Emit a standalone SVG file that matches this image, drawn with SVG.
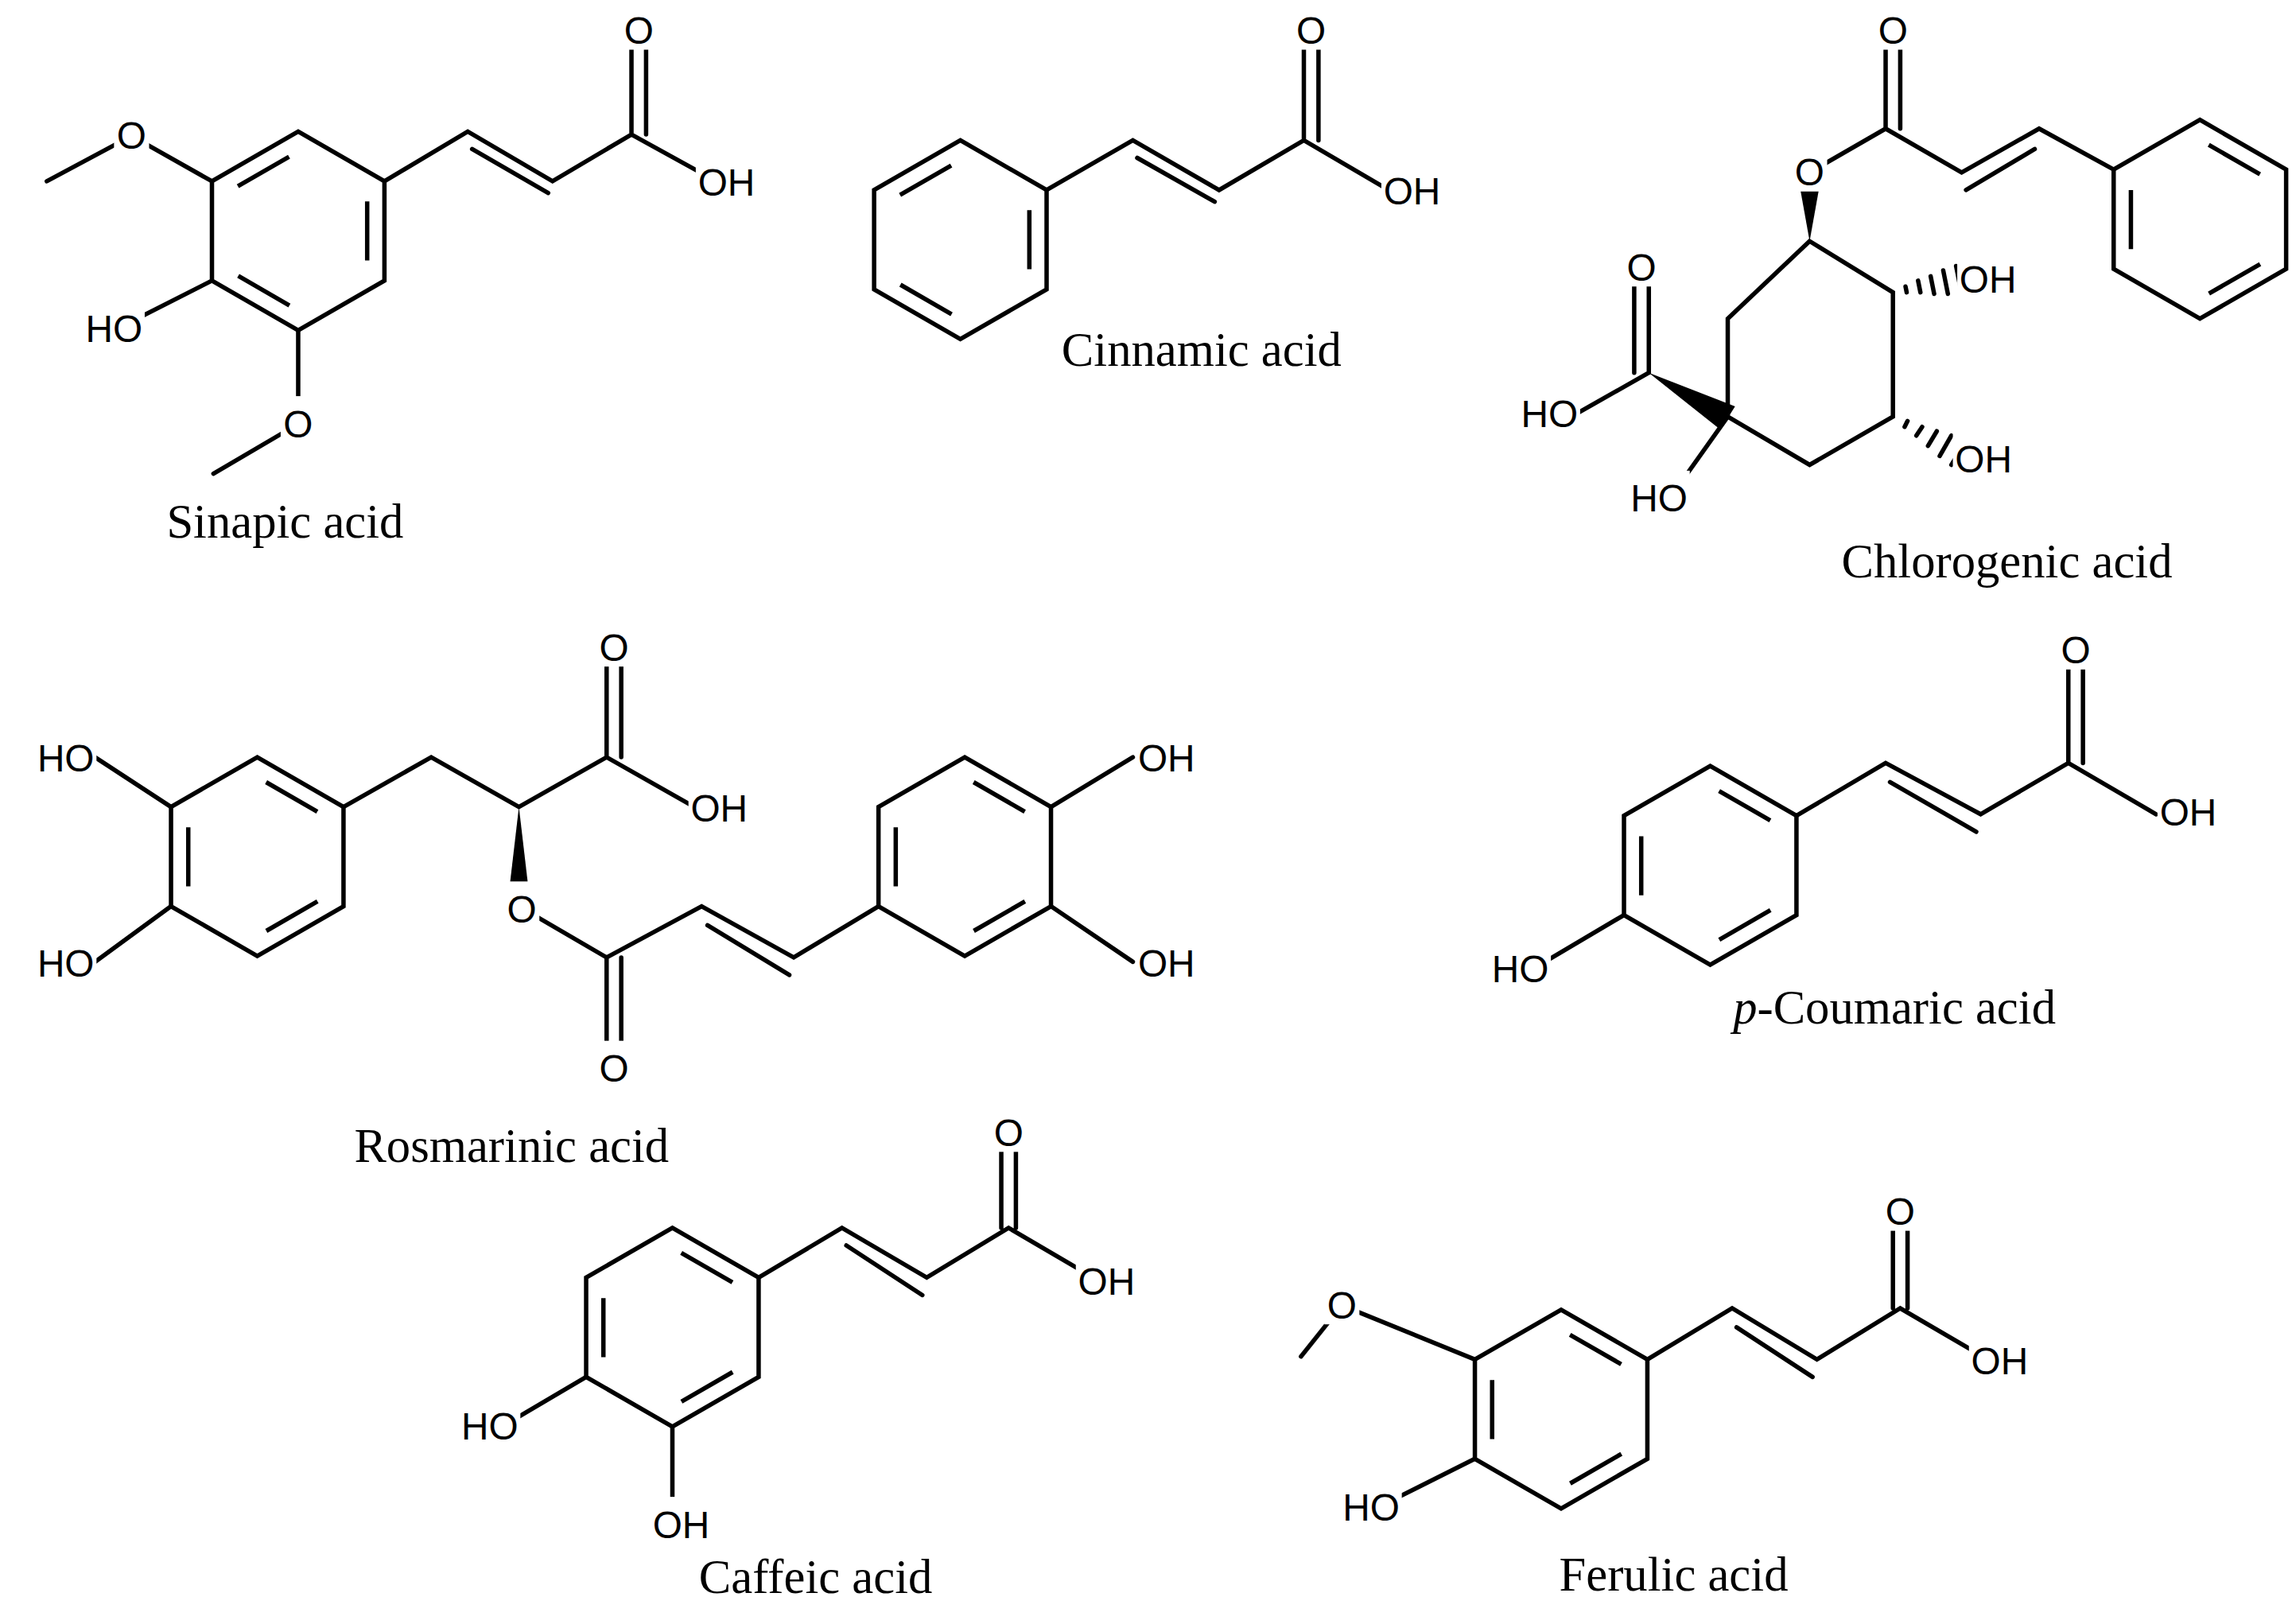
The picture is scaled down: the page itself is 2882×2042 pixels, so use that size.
<svg xmlns="http://www.w3.org/2000/svg" xmlns:xlink="http://www.w3.org/1999/xlink" width="2882" height="2042" viewBox="0 0 2882 2042">
<style>
.b{stroke:#000;stroke-width:3;fill:none;stroke-linecap:round}
.in{stroke:#000;stroke-width:3;fill:none;stroke-linecap:butt;stroke-dasharray:40.4 68.4;stroke-dashoffset:101.8}
.a{font-family:"Liberation Sans",Arial,sans-serif;font-size:26px;text-anchor:middle;fill:#000}
.m{fill:#fff}
.n{font-family:"Liberation Serif","Times New Roman",serif;font-size:33px;text-anchor:middle;fill:#000}
</style>
<defs>
<g id="ringA"><path class="b" d="M0,-68L59,-34L59,34L0,68L-59,34L-59,-34Z"/><path class="in" d="M0,-54.4L47.2,-27.2L47.2,27.2L0,54.4L-47.2,27.2L-47.2,-27.2L0,-54.4"/></g>
<g id="ringB"><path class="b" d="M0,-68L59,-34L59,34L0,68L-59,34L-59,-34Z"/><path class="in" d="M47.2,-27.2L47.2,27.2L0,54.4L-47.2,27.2L-47.2,-27.2L0,-54.4L47.2,-27.2"/></g>
<rect id="o1" class="m" x="-12" y="-28" width="24" height="32"/>
<rect id="o2" class="m" x="-21" y="-28" width="42" height="32"/>
</defs>
<rect width="2882" height="2042" fill="#fff"/>
<g transform="scale(1.838)">
<g id="sinapic">
<use xlink:href="#ringB" x="204" y="158"/>
<path class="b" d="M145,124L90,93L32,124M145,192L80,225M204,226L204,290L146,324M263,124L320,90L378,124L432,92L490,124M432,92L432,28M442,92L442,28M323,102L375,132"/>
<use xlink:href="#o1" x="90" y="102"/><use xlink:href="#o2" x="78" y="234"/><use xlink:href="#o1" x="204" y="299"/><use xlink:href="#o1" x="437" y="30"/><use xlink:href="#o2" x="497" y="134"/>
<text class="a" x="90" y="102">O</text><text class="a" x="78" y="234">HO</text><text class="a" x="204" y="299">O</text>
<text class="a" x="437" y="30">O</text><text class="a" x="497" y="134">OH</text>
<text class="n" x="195" y="368">Sinapic acid</text>
</g>
<g id="cinnamic">
<use xlink:href="#ringB" x="657" y="164"/>
<path class="b" d="M716,130L775,96L834,130L892,96L950,130M778,108L831,138M892,96L892,28M902,96L902,28"/>
<use xlink:href="#o1" x="897" y="30"/><use xlink:href="#o2" x="966" y="140"/>
<text class="a" x="897" y="30">O</text><text class="a" x="966" y="140">OH</text>
<text class="n" x="822" y="250">Cinnamic acid</text>
</g>
<g id="chlorogenic">
<path class="b" d="M1238,165L1295,200L1295,285L1238,318L1182,285L1182,218Z M1182,285L1150,330 M1238,118L1290,88L1342,118L1395,88L1446,116M1290,88L1290,28M1300,88L1300,28M1345,130L1392,102M1128,255L1128,195M1118,255L1118,195M1128,255L1075,285"/>
<polygon points="1238,165 1231,126 1245,126"/>
<polygon points="1128,255 1177,294 1187,278"/>
<path class="b" d="M1303.6,196L1304.4,200M1312.2,192L1313.8,200M1320.8,189L1323.2,201M1329.4,185L1332.6,201M1338.2,182L1341.8,200M1303,292L1305,288M1311,298L1315,292M1319,305L1325,295M1327,312L1335,298M1335,318L1345,302"/>
<use xlink:href="#ringA" x="1505" y="150"/>
<use xlink:href="#o1" x="1238" y="127"/><use xlink:href="#o1" x="1295" y="30"/><use xlink:href="#o1" x="1123" y="192"/>
<use xlink:href="#o2" x="1060" y="292"/><use xlink:href="#o2" x="1135" y="350"/><use xlink:href="#o2" x="1360" y="200"/><use xlink:href="#o2" x="1357" y="323"/>
<text class="a" x="1238" y="127">O</text><text class="a" x="1295" y="30">O</text>
<text class="a" x="1123" y="192">O</text><text class="a" x="1060" y="292">HO</text>
<text class="a" x="1135" y="350">HO</text><text class="a" x="1360" y="200">OH</text><text class="a" x="1357" y="323">OH</text>
<text class="n" x="1373" y="395">Chlorogenic acid</text>
</g>
<g id="rosmarinic">
<use xlink:href="#ringA" x="176" y="586"/>
<use xlink:href="#ringA" x="660" y="586"/>
<path class="b" d="M117,552L65,518M117,620L65,658M235,552L295,518L355,552L415,518L475,552M415,518L415,450M425,518L425,450M355,620L415,655L480,620L543,655L601,620M415,655L415,722M425,655L425,722M484,633L540,667M719,552L775,518M719,620L775,658"/>
<polygon points="355,552 348,612 362,612"/>
<use xlink:href="#o2" x="45" y="528"/><use xlink:href="#o2" x="45" y="668"/><use xlink:href="#o1" x="420" y="452"/><use xlink:href="#o2" x="492" y="562"/>
<use xlink:href="#o1" x="357" y="631"/><use xlink:href="#o1" x="420" y="740"/><use xlink:href="#o2" x="798" y="528"/><use xlink:href="#o2" x="798" y="668"/>
<text class="a" x="45" y="528">HO</text><text class="a" x="45" y="668">HO</text>
<text class="a" x="420" y="452">O</text><text class="a" x="492" y="562">OH</text>
<text class="a" x="357" y="631">O</text><text class="a" x="420" y="740">O</text>
<text class="a" x="798" y="528">OH</text><text class="a" x="798" y="668">OH</text>
<text class="n" x="350" y="795">Rosmarinic acid</text>
</g>
<g id="coumaric">
<use xlink:href="#ringA" x="1170" y="592"/>
<path class="b" d="M1111,626L1050,662M1229,558L1290,522L1355,557L1415,522L1475,557M1293,535L1352,569M1415,522L1415,452M1425,522L1425,452"/>
<use xlink:href="#o2" x="1040" y="672"/><use xlink:href="#o1" x="1420" y="454"/><use xlink:href="#o2" x="1497" y="565"/>
<text class="a" x="1040" y="672">HO</text><text class="a" x="1420" y="454">O</text><text class="a" x="1497" y="565">OH</text>
<text class="n" x="1296" y="700"><tspan font-style="italic">p</tspan>-Coumaric acid</text>
</g>
<g id="caffeic">
<use xlink:href="#ringA" x="460" y="908"/>
<path class="b" d="M401,942L345,975M460,976L460,1035M519,874L576,840L634,874L690,840L748,874M579,852L631,886M685,840L685,782M695,840L695,782"/>
<use xlink:href="#o2" x="335" y="985"/><use xlink:href="#o2" x="466" y="1052"/><use xlink:href="#o1" x="690" y="784"/><use xlink:href="#o2" x="757" y="886"/>
<text class="a" x="335" y="985">HO</text><text class="a" x="466" y="1052">OH</text>
<text class="a" x="690" y="784">O</text><text class="a" x="757" y="886">OH</text>
<text class="n" x="558" y="1090">Caffeic acid</text>
</g>
<g id="ferulic">
<use xlink:href="#ringA" x="1068" y="964"/>
<path class="b" d="M1009,930L918,893L890,928M1009,998L945,1030M1127,930L1185,895L1243,930L1300,895L1360,930M1188,908L1240,942M1295,895L1295,835M1305,895L1305,835"/>
<use xlink:href="#o1" x="918" y="902"/><use xlink:href="#o2" x="938" y="1040"/><use xlink:href="#o1" x="1300" y="838"/><use xlink:href="#o2" x="1368" y="940"/>
<text class="a" x="918" y="902">O</text><text class="a" x="938" y="1040">HO</text>
<text class="a" x="1300" y="838">O</text><text class="a" x="1368" y="940">OH</text>
<text class="n" x="1145" y="1088">Ferulic acid</text>
</g>
</g>
</svg>
